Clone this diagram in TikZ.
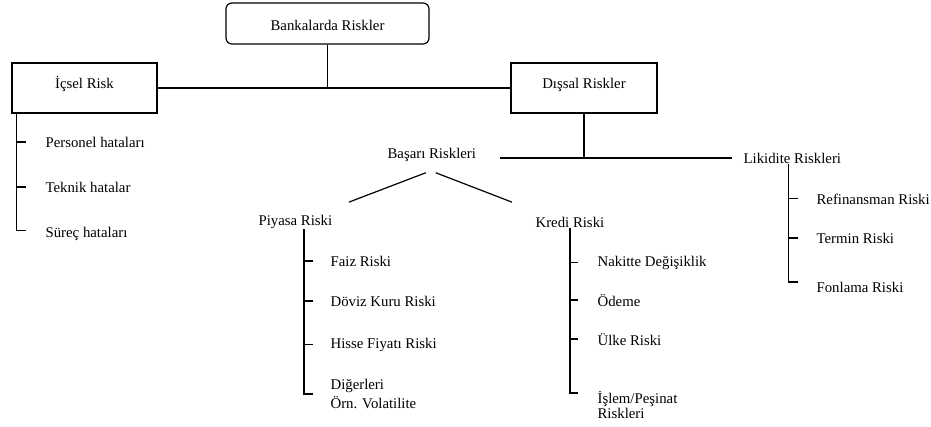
\documentclass[tikz,border=0pt]{standalone}
\usepackage{fontspec}
\setmainfont{Liberation Serif}
\usepackage{tikz}
\usetikzlibrary{positioning}

\begin{document}
\begin{tikzpicture}[x=1pt,y=-1pt,line width=1.2pt,
  every node/.style={font=\fontsize{14.8}{17}\selectfont},
  riskbox/.style={draw,line width=1.2pt,inner sep=0pt,text height=25pt,text depth=25pt},
  leaf/.style={anchor=base west,inner sep=0pt},
  leaftwo/.style={anchor=west,inner sep=0pt,align=left}]

% Fix the frame
\useasboundingbox (0,0) rectangle (931,426);

% Draw the boxes
\node[riskbox,rounded corners=6pt,minimum width=203pt,text height=27pt,text depth=14pt] (bank) at (327.5,23.5) {Bankalarda Riskler};
\node[riskbox,minimum width=145pt] (icsel) at (84.5,88) {İçsel Risk};
\node[riskbox,minimum width=146pt] (dissal) at (584,88) {Dışsal Riskler};

% Draw the group labels
\node[leaf] (basari) at (387,158) {Başarı Riskleri};
\node[leaf] (likidite) at (743,163) {Likidite Riskleri};
\node[leaf] (piyasa) at (258,225) {Piyasa Riski};
\node[leaf] (kredi) at (535,227) {Kredi Riski};

% Draw the leaves
\node[leaf] (personel) at (45,147) {Personel hataları};
\node[leaf] (teknik) at (45,192) {Teknik hatalar};
\node[leaf] (surec) at (45,237) {Süreç hataları};

\node[leaf] (faiz) at (330,266) {Faiz Riski};
\node[leaf] (doviz) at (330,306) {Döviz Kuru Riski};
\node[leaf] (hisse) at (330,348) {Hisse Fiyatı Riski};
\node[leaftwo] (diger) at (330,394) {Diğerleri\\[2pt]Örn. Volatilite};

\node[leaf] (nakit) at (597,266) {Nakitte Değişiklik};
\node[leaf] (odeme) at (597,306) {Ödeme};
\node[leaf] (ulke) at (597,345) {Ülke Riski};
\node[leaftwo] (islem) at (597,405) {İşlem/Peşinat\\[-2pt]Riskleri};

\node[leaf] (refin) at (816,204) {Refinansman Riski};
\node[leaf] (termin) at (816,243) {Termin Riski};
\node[leaf] (fonlama) at (816,292) {Fonlama Riski};

% Draw the top joins
\draw (bank.south) -- (bank.south |- icsel.east);
\draw (icsel) -- (dissal);
\draw (dissal.south) -- (dissal.south |- likidite.west);
\coordinate (bline) at ([xshift=23pt]basari.east);
\draw (bline |- likidite.west) -- ([xshift=-11pt]likidite.west);

% Draw the split under Basari
\draw ([xshift=-6pt,yshift=-11pt]basari.south) -- ([xshift=53.5pt,yshift=12pt]piyasa.north);
\draw ([xshift=4pt,yshift=-11pt]basari.south) -- ([xshift=-58pt,yshift=14pt]kredi.north);

% Draw the brackets
\draw ([xshift=5pt]icsel.south west) |- ([xshift=-19pt,yshift=3pt]surec.west);
\foreach \n in {personel,teknik}
  \draw ([xshift=-28pt]\n.west) -- ([xshift=-19pt]\n.west);

\draw ([xshift=8.5pt]piyasa.south) |- ([xshift=-17pt]diger.west);
\foreach \n in {faiz,doviz,hisse}
  \draw ([xshift=-26pt]\n.west) -- ([xshift=-17pt]\n.west);

\draw (kredi.south) |- ([xshift=-19pt,yshift=12pt]islem.west);
\foreach \n in {nakit,odeme,ulke}
  \draw ([xshift=-27pt]\n.west) -- ([xshift=-19pt]\n.west);

\draw ([xshift=-3.5pt]likidite.south) |- ([xshift=-18pt,yshift=5pt]fonlama.west);
\foreach \n in {refin,termin}
  \draw ([xshift=-27pt]\n.west) -- ([xshift=-18pt]\n.west);

\end{tikzpicture}
\end{document}
